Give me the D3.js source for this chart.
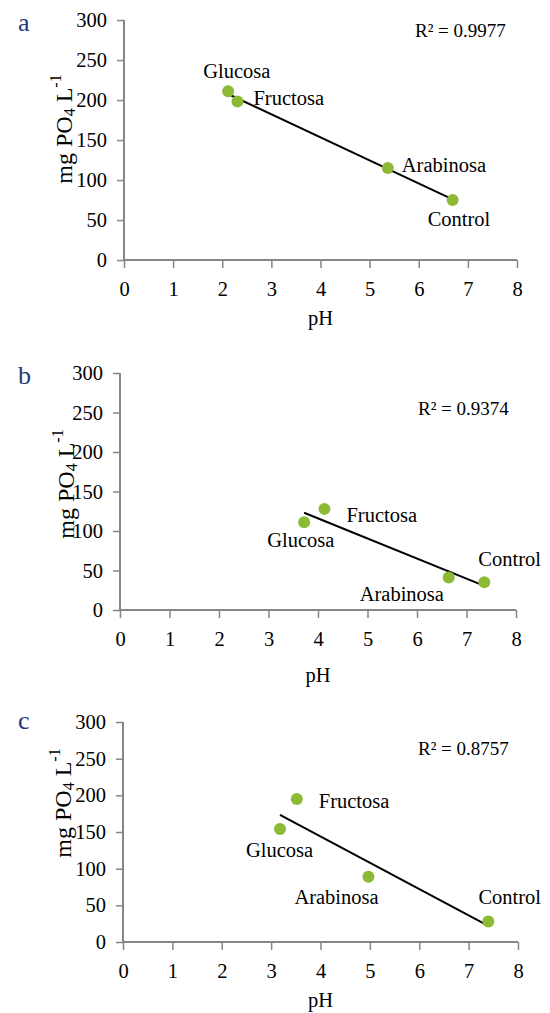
<!DOCTYPE html>
<html>
<head>
<meta charset="utf-8">
<script src="https://cdn.jsdelivr.net/npm/d3@7"></script>
<style>
    body { margin: 0; background: #fff; }
</style>
</head>
<body>
<svg id="chart" width="550" height="1013" style="display:block"></svg>
<script>
// data
const sugars = ["Glucosa", "Fructosa", "Arabinosa", "Control"]
const phA = [2.12, 2.31, 5.37, 6.69]
const po4A = [211, 198, 115, 75]
const phB = [3.72, 4.13, 6.64, 7.36]
const po4B = [111, 128, 41, 35]
const phC = [3.18, 3.52, 4.97, 7.40]
const po4C = [154, 195, 89, 28]
const r2Labels = ["R² = 0.9977", "R² = 0.9374", "R² = 0.8757"]
const panelLetters = ["a", "b", "c"]
const xTicks = [0, 1, 2, 3, 4, 5, 6, 7, 8]
const yTicks = [0, 50, 100, 150, 200, 250, 300]

// layout of each panel (pixels)
const layout = [
    { x0: 124, x1: 517, y0: 260, y1: 20, letterY: 22, r2: [415, 30], yLab: [64, 129], phY: 318,
      offs: [[-25, -20], [16, -4], [14, -3], [-25, 19]] },
    { x0: 120, x1: 516, y0: 610, y1: 373, letterY: 375, r2: [418, 408], yLab: [66, 484], phY: 675,
      offs: [[-37, 18], [22, 6], [-89, 16], [-6, -23]] },
    { x0: 123, x1: 518, y0: 942, y1: 722, letterY: 720, r2: [418, 748], yLab: [63, 803], phY: 1000,
      offs: [[-34, 21], [22, 2], [-74, 20], [-10, -24]] }
]

const phs = [phA, phB, phC]
const po4s = [po4A, po4B, po4C]

const svg = d3.select("#chart")
const axisColor = "#868686"
const serif = "'Liberation Serif', 'Times New Roman', serif"
const fs = "20.5px"

function fit(xs, ys) {
    let mx = d3.mean(xs), my = d3.mean(ys)
    let sxy = d3.sum(xs, (x, i) => (x - mx) * (ys[i] - my))
    let sxx = d3.sum(xs, (x) => (x - mx) * (x - mx))
    let b = sxy / sxx
    return (x) => my + b * (x - mx)
}

function label(g, size) {
    return g.append("text")
        .style("font-family", serif)
        .style("font-size", size)
        .attr("fill", "#000")
}

layout.forEach((L, p) => {
    let x = d3.scaleLinear().domain([0, 8]).range([L.x0, L.x1])
    let y = d3.scaleLinear().domain([0, 300]).range([L.y0, L.y1])
    let g = svg.append("g")
    let pts = sugars.map((s, i) => ({ name: s, ph: phs[p][i], po4: po4s[p][i], off: L.offs[i] }))

    // y axis
    let ya = g.append("g")
        .attr("transform", "translate(" + L.x0 + ",0)")
        .call(d3.axisLeft(y).tickValues(yTicks).tickSize(7).tickPadding(10).tickFormat(d3.format("d")))
    // x axis
    let xa = g.append("g")
        .attr("transform", "translate(0," + L.y0 + ")")
        .call(d3.axisBottom(x).tickValues(xTicks).tickSize(8).tickPadding(10).tickFormat(d3.format("d")))
    ;[ya, xa].forEach((a) => {
        a.attr("font-family", null).attr("font-size", null)
        a.select(".domain").attr("stroke", axisColor).attr("stroke-width", 2)
        a.selectAll(".tick line").attr("stroke", axisColor).attr("stroke-width", 1.5)
        a.selectAll(".tick text")
            .attr("fill", "#000")
            .style("font-family", serif)
            .style("font-size", fs)
    })
    ya.select(".domain").attr("d", "M0," + L.y0 + "V" + L.y1)
    xa.select(".domain").attr("d", "M" + L.x0 + ",0H" + L.x1)
    xa.selectAll(".tick text").attr("dy", "0.9em")

    // trend line
    let f = fit(phs[p], po4s[p])
    let ext = d3.extent(phs[p])
    g.append("line")
        .attr("x1", x(ext[0]))
        .attr("y1", y(f(ext[0])))
        .attr("x2", x(ext[1]))
        .attr("y2", y(f(ext[1])))
        .attr("stroke", "#000")
        .attr("stroke-width", 2)

    // points
    g.selectAll(".pt")
        .data(pts)
        .enter()
        .append("circle")
        .attr("class", "pt")
        .attr("cx", (d) => x(d.ph))
        .attr("cy", (d) => y(d.po4))
        .attr("r", 6)
        .attr("fill", "#8dba35")

    g.selectAll(".lbl")
        .data(pts)
        .enter()
        .append("text")
        .attr("class", "lbl")
        .attr("x", (d) => x(d.ph) + d.off[0])
        .attr("y", (d) => y(d.po4) + d.off[1])
        .attr("dominant-baseline", "central")
        .style("font-family", serif)
        .style("font-size", fs)
        .text((d) => d.name)

    // R squared
    label(g, "19px")
        .attr("x", L.r2[0])
        .attr("y", L.r2[1])
        .attr("dominant-baseline", "central")
        .text(r2Labels[p])

    // panel letter
    label(g, "26px")
        .attr("x", 18)
        .attr("y", L.letterY)
        .attr("dominant-baseline", "central")
        .attr("fill", "#1f3a7d")
        .text(panelLetters[p])

    // axis titles
    label(g, fs)
        .attr("x", (L.x0 + L.x1) / 2)
        .attr("y", L.phY)
        .attr("text-anchor", "middle")
        .attr("dominant-baseline", "central")
        .text("pH")

    let yl = label(g, "24px")
        .attr("transform", "translate(" + L.yLab[0] + "," + L.yLab[1] + ") rotate(-90)")
        .attr("text-anchor", "middle")
        .attr("dominant-baseline", "central")
    yl.append("tspan").text("mg PO")
    yl.append("tspan").attr("dy", 5).style("font-size", "16px").text("4")
    yl.append("tspan").attr("dy", -5).text(" L")
    yl.append("tspan").attr("dy", -9).style("font-size", "16px").text("-1")
})
</script>
</body>
</html>
